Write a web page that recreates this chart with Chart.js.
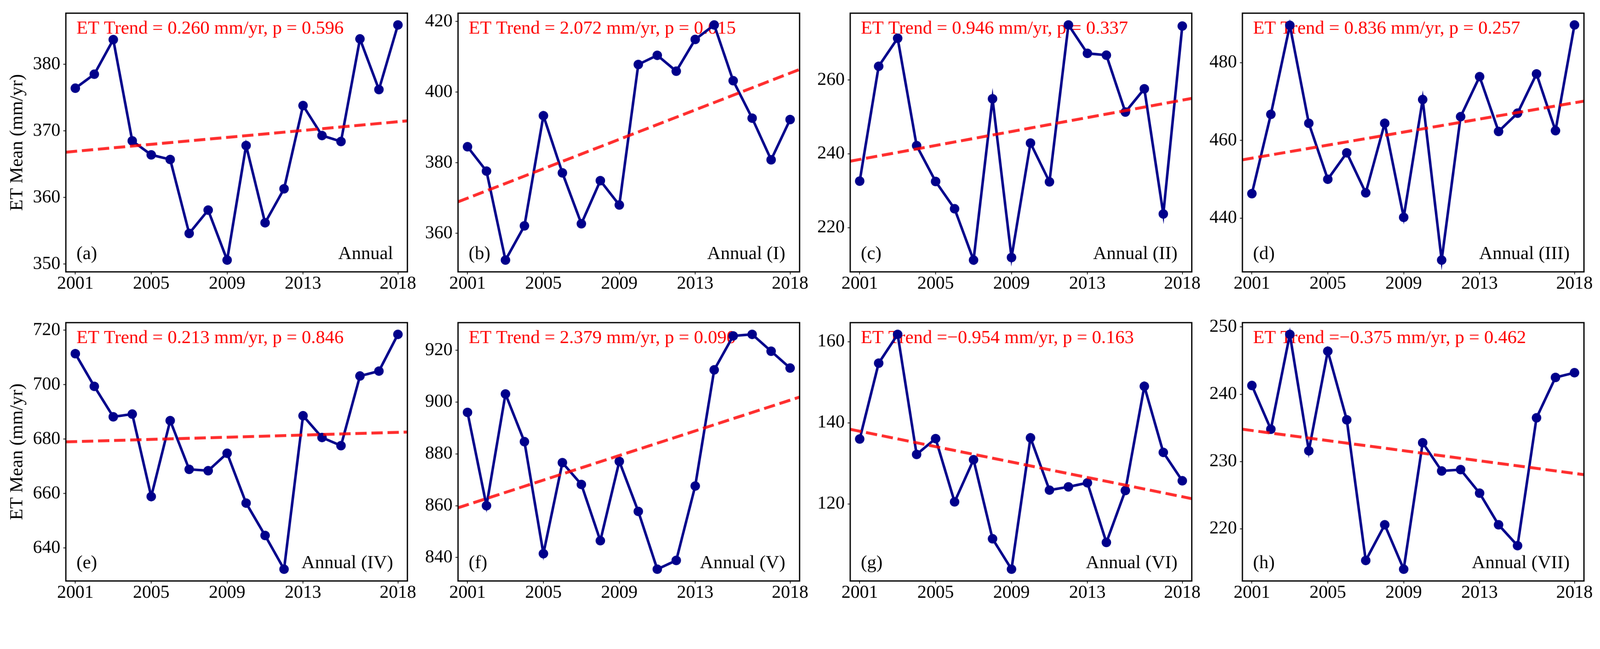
<!DOCTYPE html>
<html>
<head>
<meta charset="utf-8">
<title>ET Mean trends 2001-2018</title>
<script src="https://cdn.jsdelivr.net/npm/chart.js@4.4.1/dist/chart.umd.min.js"></script>
<style>
  html, body { margin: 0; padding: 0; background: #fff; overflow: hidden; }
  #wrap { position: relative; }
  canvas { position: absolute; }
</style>
</head>
<body>
<div id="wrap"></div>
<script>
// Years on the x axis
const years = [2001, 2002, 2003, 2004, 2005, 2006, 2007, 2008, 2009,
               2010, 2011, 2012, 2013, 2014, 2015, 2016, 2017, 2018];
const xTicks = [2001, 2005, 2009, 2013, 2018];

// Annual ET mean (mm/yr) per region
const etAnnual = [376.4, 378.5, 383.7, 368.5, 366.4, 365.7, 354.6, 358.1, 350.6,
                  367.8, 356.2, 361.3, 373.8, 369.3, 368.4, 383.8, 376.2, 385.9];
const etI   = [384.5, 377.6, 352.4, 362.1, 393.3, 377.1, 362.7, 374.9, 368.0,
               407.8, 410.4, 405.9, 414.9, 419.0, 403.2, 392.6, 380.8, 392.2];
const etII  = [232.6, 263.7, 271.3, 242.2, 232.5, 225.1, 211.2, 254.9, 211.9,
               242.9, 232.4, 274.9, 267.2, 266.7, 251.3, 257.6, 223.7, 274.6];
const etIII = [446.3, 466.7, 489.6, 464.4, 450.0, 456.8, 446.5, 464.4, 440.2,
               470.5, 429.2, 466.1, 476.4, 462.3, 467.0, 477.1, 462.5, 489.7];
const etIV  = [711.4, 699.4, 688.2, 689.2, 658.9, 686.8, 668.9, 668.4, 674.8,
               656.5, 644.6, 632.2, 688.6, 680.6, 677.6, 703.2, 705.0, 718.5];
const etV   = [896.0, 860.0, 903.1, 884.7, 841.5, 876.6, 868.2, 846.5, 877.1,
               857.8, 835.5, 838.9, 867.6, 912.4, 925.5, 926.1, 919.6, 913.1];
const etVI  = [136.0, 154.7, 161.8, 132.2, 136.1, 120.5, 130.9, 111.4, 103.9,
               136.3, 123.4, 124.2, 125.2, 110.5, 123.3, 149.0, 132.7, 125.7];
const etVII = [241.3, 234.8, 248.9, 231.6, 246.4, 236.2, 215.3, 220.6, 214.0,
               232.8, 228.6, 228.8, 225.3, 220.6, 217.5, 236.5, 242.5, 243.2];

// Trend line values at the x-axis limits (2000.5 and 2018.5)
const trendX = [2000.5, 2018.5];
const trendAnnual = [366.8, 371.5];
const trendI   = [368.9, 406.4];
const trendII  = [238.0, 255.0];
const trendIII = [455.0, 470.1];
const trendIV  = [679.0, 682.6];
const trendV   = [859.2, 901.9];
const trendVI  = [138.4, 121.3];
const trendVII = [234.8, 228.05];

// Y tick labels per panel
const ticksAnnual = [350, 360, 370, 380];
const ticksI   = [360, 380, 400, 420];
const ticksII  = [220, 240, 260];
const ticksIII = [440, 460, 480];
const ticksIV  = [640, 660, 680, 700, 720];
const ticksV   = [840, 860, 880, 900, 920];
const ticksVI  = [120, 140, 160];
const ticksVII = [220, 230, 240, 250];

// Text labels
const trendLabels = [
  'ET Trend = 0.260 mm/yr, p = 0.596',
  'ET Trend = 2.072 mm/yr, p = 0.015',
  'ET Trend = 0.946 mm/yr, p = 0.337',
  'ET Trend = 0.836 mm/yr, p = 0.257',
  'ET Trend = 0.213 mm/yr, p = 0.846',
  'ET Trend = 2.379 mm/yr, p = 0.090',
  'ET Trend =\u22120.954 mm/yr, p = 0.163',
  'ET Trend =\u22120.375 mm/yr, p = 0.462'
];
const panelTags = ['(a)', '(b)', '(c)', '(d)', '(e)', '(f)', '(g)', '(h)'];
const regionNames = ['Annual', 'Annual (I)', 'Annual (II)', 'Annual (III)',
                     'Annual (IV)', 'Annual (V)', 'Annual (VI)', 'Annual (VII)'];
const yTitle = 'ET Mean (mm/yr)';

const seriesList = [etAnnual, etI, etII, etIII, etIV, etV, etVI, etVII];
const trendList  = [trendAnnual, trendI, trendII, trendIII, trendIV, trendV, trendVI, trendVII];
const tickList   = [ticksAnnual, ticksI, ticksII, ticksIII, ticksIV, ticksV, ticksVI, ticksVII];

// Layout in output pixels of a 4377 x 1661 picture
const PAGE_W = 4377;
const PAGE_H = 1661;
const FRAME_LEFT = [180, 1253, 2326, 3399];
const FRAME_TOP = [36, 882];
const FRAME_W = 934;
const FRAME_H = 707;
const AXIS_W = 180;
const PAD_TOP = 36;
const PAD_RIGHT = 30;
const AXIS_H = 90;
const TICK_LEN = 7;

// The window may not be 1 css px per picture px; draw in picture px and shrink the css box
const R = PAGE_W / (document.documentElement.clientWidth || PAGE_W);

const FONT = '"Liberation Serif", "Times New Roman", Times, serif';
const NAVY = '#00008B';
const TREND_RED = 'rgba(255, 0, 0, 0.82)';

Chart.defaults.font.family = FONT;
Chart.defaults.color = '#000';

// Black box around the plot area
const framePlugin = {
  id: 'frame',
  afterDraw(chart) {
    const { ctx, chartArea: a } = chart;
    ctx.save();
    ctx.strokeStyle = '#000';
    ctx.lineWidth = 3.5;
    ctx.strokeRect(a.left, a.top, a.right - a.left, a.bottom - a.top);
    ctx.restore();
  }
};

// Trend text, panel tag and region name inside the plot area
const labelPlugin = {
  id: 'panelLabels',
  beforeDatasetsDraw(chart, args, opts) {
    const { ctx, chartArea: a } = chart;
    ctx.save();
    ctx.font = '51px ' + FONT;
    ctx.textBaseline = 'alphabetic';
    ctx.fillStyle = 'red';
    ctx.textAlign = 'left';
    ctx.fillText(opts.trendText, a.left + 29, a.top + 56);
    ctx.fillStyle = '#000';
    ctx.fillText(opts.tag, a.left + 29, a.bottom - 35);
    ctx.textAlign = 'right';
    ctx.fillText(opts.region, a.right - 39, a.bottom - 35);
    ctx.restore();
  }
};

const wrap = document.getElementById('wrap');
wrap.style.width = (PAGE_W / R) + 'px';
wrap.style.height = (PAGE_H / R) + 'px';

seriesList.forEach((values, i) => {
  const row = Math.floor(i / 4);
  const col = i % 4;

  const canvas = document.createElement('canvas');
  const w = AXIS_W + FRAME_W + PAD_RIGHT;
  const h = PAD_TOP + FRAME_H + AXIS_H;
  canvas.width = w;
  canvas.height = h;
  canvas.style.width = (w / R) + 'px';
  canvas.style.height = (h / R) + 'px';
  canvas.style.left = ((FRAME_LEFT[col] - AXIS_W) / R) + 'px';
  canvas.style.top = ((FRAME_TOP[row] - PAD_TOP) / R) + 'px';
  wrap.appendChild(canvas);

  // matplotlib-style 5% margin around the data
  const lo = Math.min(...values);
  const hi = Math.max(...values);
  const margin = (hi - lo) * 0.05;

  const trend = trendList[i];
  const yTicks = tickList[i];

  new Chart(canvas.getContext('2d'), {
    type: 'line',
    data: {
      datasets: [
        {
          label: 'trend',
          data: trendX.map((x, k) => ({ x: x, y: trend[k] })),
          borderColor: TREND_RED,
          borderWidth: 8,
          borderDash: [31, 13],
          borderCapStyle: 'butt',
          pointRadius: 0,
          fill: false,
          order: 0
        },
        {
          label: regionNames[i],
          data: years.map((x, k) => ({ x: x, y: values[k] })),
          borderColor: NAVY,
          backgroundColor: NAVY,
          borderWidth: 7,
          pointRadius: 13,
          pointBackgroundColor: NAVY,
          pointBorderWidth: 0,
          tension: 0,
          fill: false,
          clip: false,
          order: 1
        }
      ]
    },
    options: {
      responsive: false,
      animation: false,
      devicePixelRatio: 1,
      events: [],
      layout: { padding: { top: PAD_TOP, right: PAD_RIGHT, left: 0, bottom: 0 } },
      plugins: {
        legend: { display: false },
        tooltip: { enabled: false },
        panelLabels: { trendText: trendLabels[i], tag: panelTags[i], region: regionNames[i] }
      },
      scales: {
        x: {
          type: 'linear',
          min: 2000.5,
          max: 2018.5,
          afterBuildTicks: scale => { scale.ticks = xTicks.map(v => ({ value: v })); },
          afterFit: scale => { scale.height = AXIS_H; },
          ticks: {
            autoSkip: false,
            maxRotation: 0,
            padding: 1,
            color: '#000',
            font: { size: 50, lineHeight: 1 },
            callback: v => String(v)
          },
          grid: { drawOnChartArea: false, drawTicks: true, tickLength: TICK_LEN, tickWidth: 2, tickColor: '#000' },
          border: { display: false }
        },
        y: {
          type: 'linear',
          min: lo - margin,
          max: hi + margin,
          afterBuildTicks: scale => { scale.ticks = yTicks.map(v => ({ value: v })); },
          afterFit: scale => { scale.width = AXIS_W; },
          ticks: {
            padding: 8,
            color: '#000',
            font: { size: 50, lineHeight: 1 },
            callback: v => String(v)
          },
          title: {
            display: col === 0,
            text: yTitle,
            color: '#000',
            font: { size: 51, lineHeight: 1.2 },
            padding: { top: 17, bottom: 0 }
          },
          grid: { drawOnChartArea: false, drawTicks: true, tickLength: TICK_LEN, tickWidth: 2, tickColor: '#000' },
          border: { display: false }
        }
      }
    },
    plugins: [labelPlugin, framePlugin]
  });
});
</script>
</body>
</html>
